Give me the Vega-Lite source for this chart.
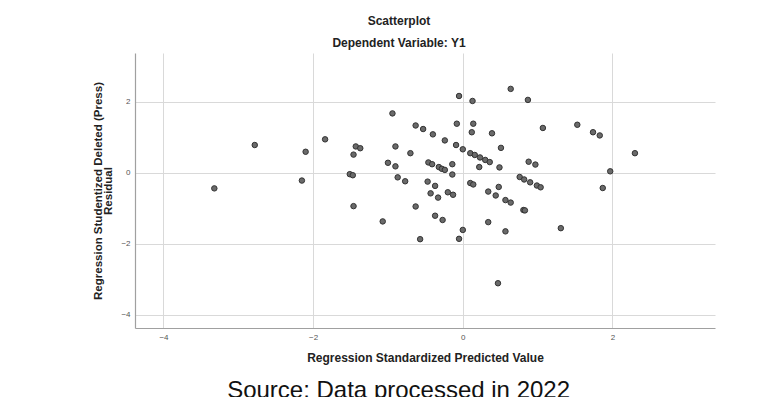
{
  "$schema": "https://vega.github.io/schema/vega-lite/v6.json",
  "width": 580,
  "height": 275,
  "autosize": {"type": "none"},
  "padding": {"left": 135, "top": 53, "right": 59, "bottom": 69},
  "background": "white",
  "title": {
    "text": "Scatterplot",
    "subtitle": "Dependent Variable: Y1",
    "anchor": "middle",
    "dx": -26,
    "offset": 3,
    "font": "Liberation Sans",
    "fontSize": 12,
    "fontWeight": "bold",
    "color": "#222",
    "subtitleFont": "Liberation Sans",
    "subtitleFontSize": 12,
    "subtitleFontWeight": "bold",
    "subtitleColor": "#222",
    "subtitlePadding": 10
  },
  "config": {
    "view": {"stroke": null},
    "axis": {
      "labelFont": "Liberation Sans",
      "labelFontSize": 8,
      "labelColor": "#555",
      "titleFont": "Liberation Sans",
      "titleFontSize": 12,
      "titleFontWeight": "bold",
      "titleColor": "#222",
      "domainColor": "#a0a0a0",
      "domainWidth": 1.2,
      "gridColor": "#d9d9d9",
      "gridWidth": 1,
      "ticks": false,
      "labelPadding": 5,
      "format": "d"
    }
  },
  "layer": [
    {
      "data": {
        "values": [
          {"pred": -3.32, "resid": -0.44}, {"pred": -2.78, "resid": 0.78}, {"pred": -2.10, "resid": 0.59},
          {"pred": -2.15, "resid": -0.22}, {"pred": -1.84, "resid": 0.94}, {"pred": -1.43, "resid": 0.74},
          {"pred": -1.37, "resid": 0.69}, {"pred": -1.46, "resid": 0.51}, {"pred": -1.51, "resid": -0.04},
          {"pred": -1.47, "resid": -0.07}, {"pred": -1.46, "resid": -0.94}, {"pred": -1.07, "resid": -1.37},
          {"pred": -0.94, "resid": 1.67}, {"pred": -0.90, "resid": 0.74}, {"pred": -1.00, "resid": 0.28},
          {"pred": -0.90, "resid": 0.18}, {"pred": -0.87, "resid": -0.13}, {"pred": -0.77, "resid": -0.24},
          {"pred": -0.70, "resid": 0.55}, {"pred": -0.63, "resid": 1.33}, {"pred": -0.53, "resid": 1.23},
          {"pred": -0.40, "resid": 1.08}, {"pred": -0.24, "resid": 0.91}, {"pred": -0.09, "resid": 0.78},
          {"pred": -0.08, "resid": 1.38}, {"pred": -0.05, "resid": 2.16}, {"pred": -0.46, "resid": 0.29},
          {"pred": -0.41, "resid": 0.24}, {"pred": -0.32, "resid": 0.16}, {"pred": -0.28, "resid": 0.11},
          {"pred": -0.24, "resid": 0.08}, {"pred": -0.14, "resid": 0.24}, {"pred": -0.14, "resid": -0.05},
          {"pred": -0.47, "resid": -0.25}, {"pred": -0.37, "resid": -0.37}, {"pred": -0.43, "resid": -0.58},
          {"pred": -0.33, "resid": -0.70}, {"pred": -0.20, "resid": -0.55}, {"pred": -0.13, "resid": -0.62},
          {"pred": -0.63, "resid": -0.95}, {"pred": -0.37, "resid": -1.21}, {"pred": -0.27, "resid": -1.33},
          {"pred": -0.57, "resid": -1.87}, {"pred": -0.05, "resid": -1.86}, {"pred": 0.13, "resid": 2.02},
          {"pred": 0.64, "resid": 2.36}, {"pred": 0.87, "resid": 2.05}, {"pred": 0.14, "resid": 1.38},
          {"pred": 0.12, "resid": 1.14}, {"pred": 0.39, "resid": 1.11}, {"pred": 1.07, "resid": 1.26},
          {"pred": 1.53, "resid": 1.35}, {"pred": 1.74, "resid": 1.14}, {"pred": 1.83, "resid": 1.05},
          {"pred": 2.30, "resid": 0.55}, {"pred": 1.97, "resid": 0.04}, {"pred": 1.87, "resid": -0.43},
          {"pred": 0.00, "resid": 0.66}, {"pred": 0.10, "resid": 0.55}, {"pred": 0.16, "resid": 0.50},
          {"pred": 0.23, "resid": 0.43}, {"pred": 0.30, "resid": 0.36}, {"pred": 0.36, "resid": 0.30},
          {"pred": 0.22, "resid": 0.16}, {"pred": 0.51, "resid": 0.70}, {"pred": 0.49, "resid": 0.15},
          {"pred": 0.88, "resid": 0.31}, {"pred": 0.97, "resid": 0.23}, {"pred": 0.10, "resid": -0.29},
          {"pred": 0.14, "resid": -0.33}, {"pred": 0.76, "resid": -0.12}, {"pred": 0.82, "resid": -0.19},
          {"pred": 0.90, "resid": -0.27}, {"pred": 0.99, "resid": -0.36}, {"pred": 1.04, "resid": -0.41},
          {"pred": 0.48, "resid": -0.40}, {"pred": 0.34, "resid": -0.53}, {"pred": 0.44, "resid": -0.64},
          {"pred": 0.57, "resid": -0.77}, {"pred": 0.64, "resid": -0.84}, {"pred": 0.81, "resid": -1.05},
          {"pred": 0.83, "resid": -1.06}, {"pred": 0.34, "resid": -1.39}, {"pred": 0.00, "resid": -1.61},
          {"pred": 0.57, "resid": -1.65}, {"pred": 1.31, "resid": -1.56}, {"pred": 0.47, "resid": -3.11}
        ]
      },
      "mark": {"type": "point", "filled": true, "size": 30, "color": "#6a6a6a", "stroke": "#333", "strokeWidth": 1, "opacity": 1},
      "encoding": {
        "x": {
          "field": "pred",
          "type": "quantitative",
          "scale": {"domain": [-4.38, 3.37], "nice": false, "zero": false},
          "axis": {"values": [-4, -2, 0, 2], "title": "Regression Standardized Predicted Value", "titlePadding": 11}
        },
        "y": {
          "field": "resid",
          "type": "quantitative",
          "scale": {"domain": [-4.37, 3.37], "nice": false, "zero": false},
          "axis": {"values": [-4, -2, 0, 2], "title": ["Regression Studentized Deleted (Press)", "Residual"], "titleFontSize": 11.5, "titlePadding": 7, "titleLineHeight": 10}
        }
      }
    },
    {
      "data": {"values": [{"label": "Source: Data processed in 2022"}]},
      "mark": {"type": "text", "font": "Liberation Sans", "fontSize": 24, "baseline": "alphabetic", "align": "center", "color": "#111"},
      "encoding": {
        "x": {"datum": -0.858, "type": "quantitative"},
        "y": {"datum": -6.33, "type": "quantitative"},
        "text": {"field": "label"}
      }
    }
  ]
}
